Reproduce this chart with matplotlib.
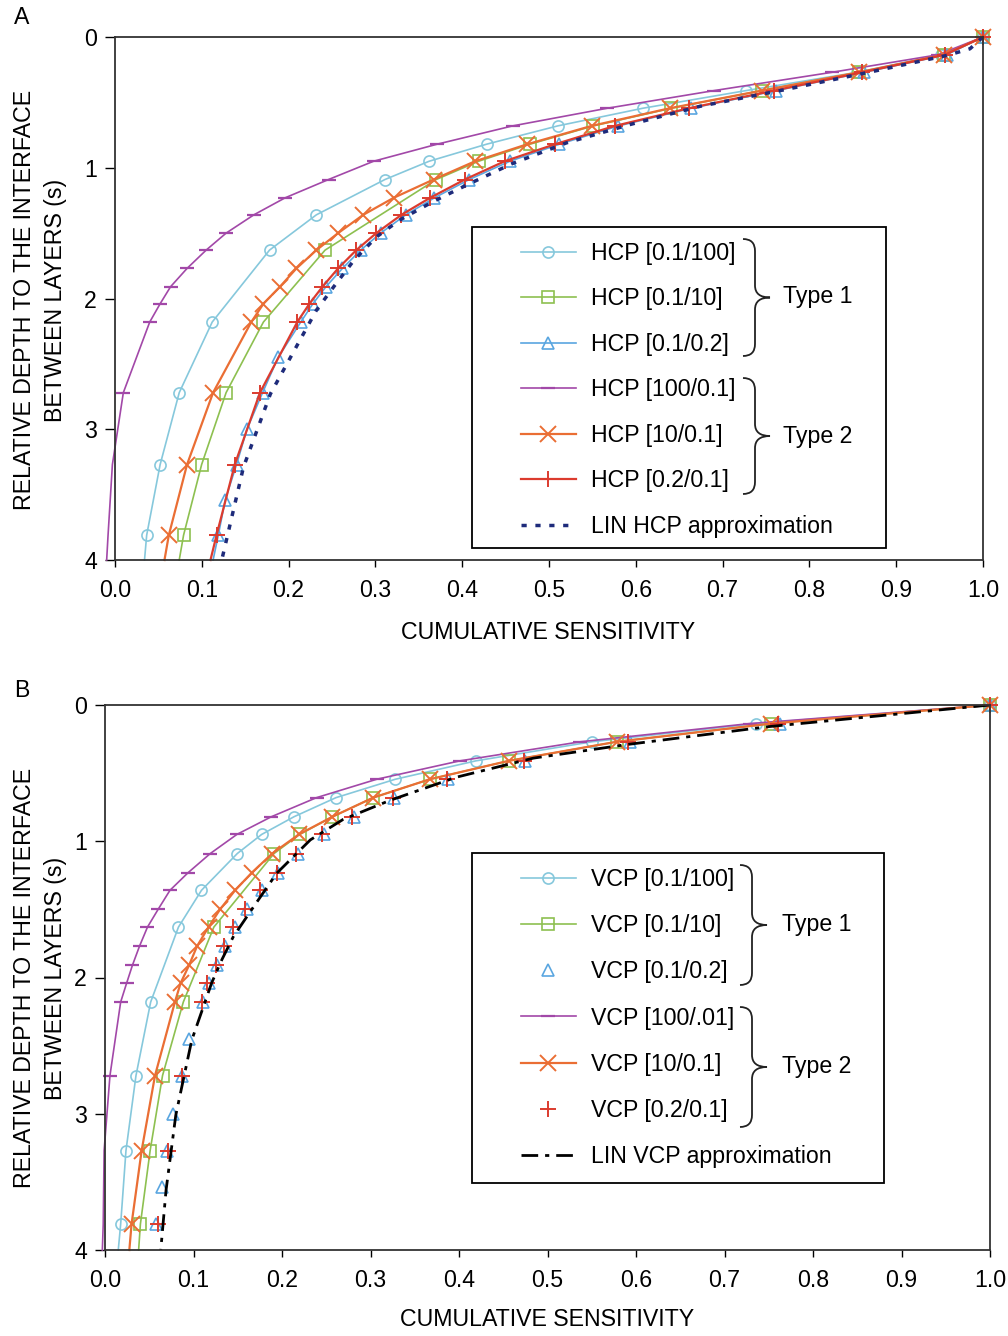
import numpy as np
import matplotlib.pyplot as plt
from matplotlib.path import Path
from matplotlib.patches import PathPatch, Rectangle
from matplotlib.ticker import FormatStrFormatter

plt.rcParams['font.family'] = ['Liberation Sans', 'DejaVu Sans']

W, H = 1008, 1336

# relative depth samples (last value = where the line leaves the plot)
depth = [0, 0.136, 0.27, 0.41, 0.545, 0.68, 0.82, 0.95, 1.09, 1.23, 1.36, 1.5,
         1.63, 1.77, 1.91, 2.04, 2.18, 2.72, 3.27, 3.81, 4.0]
depth_sparse = [0, 0.136, 0.27, 0.41, 0.545, 0.68, 0.82, 0.95, 1.09, 1.36, 1.63,
                2.18, 2.72, 3.27, 3.81, 4.0]
depth_sq = [0, 0.136, 0.27, 0.41, 0.545, 0.68, 0.82, 0.95, 1.09, 1.63, 2.18,
            2.72, 3.27, 3.81, 4.0]
depth_tri = [0, 0.136, 0.27, 0.41, 0.545, 0.68, 0.82, 0.95, 1.09, 1.23, 1.36, 1.5,
             1.63, 1.77, 1.91, 2.04, 2.18, 2.45, 2.72, 3.0, 3.27, 3.54, 3.81, 4.0]

# panel A - HCP
hcp_circle = [1.0, 0.952, 0.855, 0.727, 0.608, 0.510, 0.428, 0.362, 0.311, 0.232,
              0.178, 0.112, 0.074, 0.052, 0.0365, 0.034]
hcp_square = [1.0, 0.955, 0.857, 0.745, 0.641, 0.551, 0.478, 0.419, 0.370, 0.242,
              0.171, 0.128, 0.0998, 0.079, 0.074]
hcp_tri = [1.0, 0.958, 0.863, 0.762, 0.664, 0.580, 0.512, 0.455, 0.408, 0.368, 0.335,
           0.306, 0.283, 0.262, 0.243, 0.228, 0.214, 0.188, 0.170, 0.152, 0.140,
           0.127, 0.119, 0.113]
hcp_purple = [1.0, 0.948, 0.826, 0.690, 0.567, 0.458, 0.371, 0.298, 0.246, 0.196,
              0.160, 0.128, 0.105, 0.083, 0.064, 0.052, 0.040, 0.0096, -0.003,
              -0.008, -0.0096]
hcp_orange = [1.0, 0.955, 0.857, 0.745, 0.639, 0.549, 0.475, 0.415, 0.367, 0.321,
              0.286, 0.257, 0.232, 0.209, 0.190, 0.171, 0.157, 0.113, 0.083, 0.062,
              0.057]
hcp_red = [1.0, 0.956, 0.861, 0.759, 0.661, 0.576, 0.507, 0.449, 0.403, 0.363, 0.330,
           0.301, 0.278, 0.257, 0.239, 0.224, 0.210, 0.167, 0.138, 0.117, 0.110]
lin_hcp_depth = [0, 0.09, 0.14, 0.265, 0.405, 0.53, 0.67, 0.81, 0.97, 1.12, 1.26,
                 1.40, 1.53, 1.71, 1.91, 2.09, 2.73, 3.29, 4.0]
lin_hcp = [1.0, 0.985, 0.959, 0.872, 0.770, 0.674, 0.593, 0.520, 0.457, 0.409, 0.366,
           0.328, 0.301, 0.275, 0.252, 0.232, 0.179, 0.148, 0.123]

# panel B - VCP
vcp_circle = [1.0, 0.736, 0.55, 0.419, 0.328, 0.261, 0.2136, 0.177, 0.1495, 0.109,
              0.083, 0.0516, 0.035, 0.0237, 0.0177, 0.015]
vcp_square = [1.0, 0.753, 0.578, 0.456, 0.367, 0.303, 0.257, 0.220, 0.191, 0.123,
              0.0885, 0.065, 0.051, 0.040, 0.038]
vcp_tri = [1.0, 0.763, 0.593, 0.475, 0.388, 0.327, 0.281, 0.247, 0.218, 0.196, 0.177,
           0.160, 0.147, 0.136, 0.126, 0.117, 0.111, 0.095, 0.087, 0.077, 0.070,
           0.064, 0.058]
vcp_purple = [1.0, 0.729, 0.537, 0.401, 0.307, 0.239, 0.188, 0.149, 0.119, 0.094,
              0.0734, 0.060, 0.048, 0.039, 0.031, 0.0245, 0.0177, 0.0056, -0.001,
              -0.002, -0.003]
vcp_orange = [1.0, 0.753, 0.578, 0.456, 0.367, 0.303, 0.257, 0.219, 0.189, 0.166,
              0.147, 0.130, 0.117, 0.104, 0.095, 0.0855, 0.079, 0.0565, 0.0414,
              0.030, 0.0275]
vcp_red = [1.0, 0.761, 0.591, 0.473, 0.386, 0.325, 0.279, 0.245, 0.216, 0.194, 0.175,
           0.158, 0.145, 0.134, 0.125, 0.115, 0.110, 0.0867, 0.0716, 0.060]
lin_vcp_depth = [0, 0.16, 0.29, 0.39, 0.53, 0.70, 0.84, 0.99, 1.235, 1.48, 1.70,
                 1.87, 2.04, 2.46, 3.01, 3.56, 4.0]
lin_vcp = [1.0, 0.748, 0.59, 0.484, 0.397, 0.322, 0.269, 0.232, 0.194, 0.168, 0.145,
           0.132, 0.1205, 0.098, 0.080, 0.069, 0.063]

labels_hcp = ['HCP [0.1/100]', 'HCP [0.1/10]', 'HCP [0.1/0.2]', 'HCP [100/0.1]',
              'HCP [10/0.1]', 'HCP [0.2/0.1]', 'LIN HCP approximation']
labels_vcp = ['VCP [0.1/100]', 'VCP [0.1/10]', 'VCP [0.1/0.2]', 'VCP [100/.01]',
              'VCP [10/0.1]', 'VCP [0.2/0.1]', 'LIN VCP approximation']

c_circle = '#86c8dc'
c_square = '#8dc050'
c_tri = '#5aa6e0'
c_purple = '#a248a8'
c_orange = '#ea6e34'
c_red = '#dc3b2e'
c_lin = '#1e2b7b'

FS = 16.7


def fx(px):
    return px / W


def fy(py):
    return 1 - py / H


def curve(ax, x, d, color, marker, ms, lw=1.2, line=True, mew=1.2):
    n = len(x) - 1 if line else len(x)
    # no markers on the end point or where the curve runs left of the axis
    every = [i for i in range(n) if x[i] >= 0]
    ls = '-' if line else 'none'
    ln, = ax.plot(x, d, color=color, lw=lw, ls=ls, marker=marker, ms=ms,
                  mfc='none', mec=color, mew=mew, markevery=every, clip_on=False)
    return ln


def brace(fig, xl, ytop, ybot, w=27):
    ym = (ytop + ybot) / 2
    xv = xl + 12
    xt = xl + w
    r = 12
    verts = [(xl, ytop), (xv, ytop), (xv, ytop + r), (xv, ym - r), (xv, ym), (xt, ym),
             (xv, ym), (xv, ym + r), (xv, ybot - r), (xv, ybot), (xl, ybot)]
    codes = [Path.MOVETO, Path.CURVE3, Path.CURVE3, Path.LINETO, Path.CURVE3, Path.CURVE3,
             Path.CURVE3, Path.CURVE3, Path.LINETO, Path.CURVE3, Path.CURVE3]
    verts = [(fx(a), fy(b)) for a, b in verts]
    fig.add_artist(PathPatch(Path(verts, codes), transform=fig.transFigure,
                             fill=False, lw=1.3, ec='#222222'))


def style_axes(ax):
    ax.set_xlim(0, 1)
    ax.set_ylim(4, 0)
    ax.set_xticks(np.arange(0, 1.01, 0.1))
    ax.set_yticks([0, 1, 2, 3, 4])
    ax.xaxis.set_major_formatter(FormatStrFormatter('%.1f'))
    ax.tick_params(axis='x', direction='out', length=5, width=1, labelsize=FS, pad=9)
    ax.tick_params(axis='y', direction='out', length=7, width=1, labelsize=FS, pad=6)
    for s in ax.spines.values():
        s.set_linewidth(1.3)
        s.set_color('#333333')


fig = plt.figure(figsize=(W / 100, H / 100), dpi=100)

# ---------------- panel A
axA = fig.add_axes([fx(115), fy(560), fx(983) - fx(115), (560 - 37) / H])
hA = [
    curve(axA, hcp_circle, depth_sparse, c_circle, 'o', 8),
    curve(axA, hcp_square, depth_sq, c_square, 's', 8),
    curve(axA, hcp_tri, depth_tri, c_tri, '^', 8),
    curve(axA, hcp_purple, depth, c_purple, '_', 10, mew=1.6),
    curve(axA, hcp_orange, depth, c_orange, 'x', 11, lw=1.6, mew=1.4),
    curve(axA, hcp_red, depth, c_red, '+', 12, lw=1.6, mew=1.4),
]
ln, = axA.plot(lin_hcp, lin_hcp_depth, color=c_lin, lw=2.5, ls=(0, (1.5, 2.5)))
hA.append(ln)
style_axes(axA)
axA.legend(hA, labels_hcp, loc='upper left', bbox_to_anchor=(fx(521), fy(242)),
           bbox_transform=fig.transFigure, frameon=False, fontsize=FS,
           handlelength=2.35, handletextpad=0.65, labelspacing=0.97, borderpad=0,
           borderaxespad=0, numpoints=1)
fig.add_artist(Rectangle((fx(472), fy(548)), (886 - 472) / W, (548 - 227) / H,
                         transform=fig.transFigure, fill=False, lw=1.3, ec='black'))
brace(fig, 743, 239, 356)
brace(fig, 743, 378, 494)
fig.text(fx(783), fy(297), 'Type 1', fontsize=FS, va='center', ha='left')
fig.text(fx(783), fy(436), 'Type 2', fontsize=FS, va='center', ha='left')

fig.text(fx(22), fy(18), 'A', fontsize=FS, ha='center', va='center')
fig.text(fx(548), fy(632), 'CUMULATIVE SENSITIVITY', fontsize=FS, ha='center', va='center')
fig.text(fx(40), fy(300), 'RELATIVE DEPTH TO THE INTERFACE\nBETWEEN LAYERS (s)',
         fontsize=FS, rotation=90, ha='center', va='center', multialignment='center',
         linespacing=1.4)

# ---------------- panel B
axB = fig.add_axes([fx(105), fy(1250), fx(990) - fx(105), (1250 - 705) / H])
hB = [
    curve(axB, vcp_circle, depth_sparse, c_circle, 'o', 8),
    curve(axB, vcp_square, depth_sq, c_square, 's', 8),
    curve(axB, vcp_tri, depth_tri[:-1], c_tri, '^', 8, line=False),
    curve(axB, vcp_purple, depth, c_purple, '_', 10, mew=1.6),
    curve(axB, vcp_orange, depth, c_orange, 'x', 11, lw=1.6, mew=1.4),
    curve(axB, vcp_red, depth[:-1], c_red, '+', 12, line=False, mew=1.4),
]
ln, = axB.plot(lin_vcp, lin_vcp_depth, color='black', lw=2.0, ls=(0, (6, 2.5, 1.5, 2.5)))
hB.append(ln)
style_axes(axB)
axB.legend(hB, labels_vcp, loc='upper left', bbox_to_anchor=(fx(521), fy(868)),
           bbox_transform=fig.transFigure, frameon=False, fontsize=FS,
           handlelength=2.35, handletextpad=0.65, labelspacing=1.0, borderpad=0,
           borderaxespad=0, numpoints=1)
fig.add_artist(Rectangle((fx(472), fy(1183)), (884 - 472) / W, (1183 - 853) / H,
                         transform=fig.transFigure, fill=False, lw=1.3, ec='black'))
brace(fig, 740, 865, 985)
brace(fig, 740, 1007, 1127)
fig.text(fx(782), fy(925), 'Type 1', fontsize=FS, va='center', ha='left')
fig.text(fx(782), fy(1067), 'Type 2', fontsize=FS, va='center', ha='left')

fig.text(fx(22), fy(690), 'B', fontsize=FS, ha='center', va='center')
fig.text(fx(547), fy(1320), 'CUMULATIVE SENSITIVITY', fontsize=FS, ha='center', va='center')
fig.text(fx(40), fy(978), 'RELATIVE DEPTH TO THE INTERFACE\nBETWEEN LAYERS (s)',
         fontsize=FS, rotation=90, ha='center', va='center', multialignment='center',
         linespacing=1.4)

fig.savefig('out.png', dpi=100)
